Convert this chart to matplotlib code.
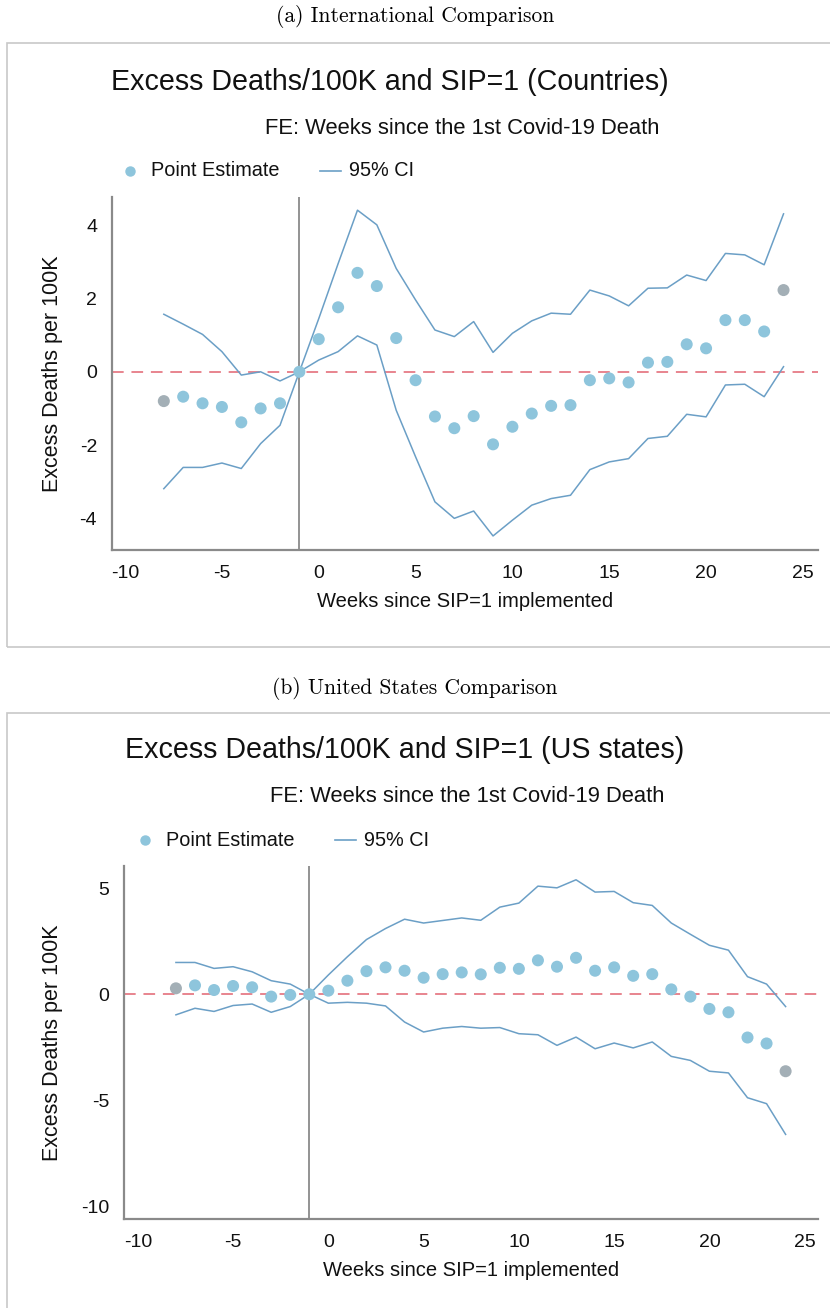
import matplotlib
matplotlib.use("Agg")
import matplotlib.pyplot as plt
from matplotlib.patches import Rectangle
from matplotlib.lines import Line2D

plt.rcParams['font.family'] = ['Liberation Sans', 'DejaVu Sans']
plt.rcParams['axes.unicode_minus'] = False

# ---------------- data ----------------
weeks = list(range(-8, 25))

# (a) Countries
intl_est = [-0.80, -0.68, -0.86, -0.96, -1.38, -1.00, -0.86, 0.00,
            0.89, 1.76, 2.70, 2.34, 0.92, -0.23, -1.22, -1.54, -1.21,
            -1.98, -1.50, -1.14, -0.93, -0.91, -0.23, -0.18, -0.29,
            0.25, 0.27, 0.75, 0.64, 1.41, 1.41, 1.10, 2.23]
intl_hi = [1.57, 1.30, 1.02, 0.55, -0.09, 0.00, -0.25, 0.00,
           1.45, 2.95, 4.41, 4.01, 2.82, 1.96, 1.14, 0.96, 1.37,
           0.53, 1.05, 1.39, 1.60, 1.57, 2.23, 2.07, 1.80,
           2.28, 2.29, 2.64, 2.49, 3.23, 3.19, 2.92, 4.31]
intl_lo = [-3.19, -2.61, -2.61, -2.49, -2.64, -1.96, -1.46, 0.00,
           0.32, 0.55, 0.98, 0.73, -1.05, -2.32, -3.55, -4.00, -3.80,
           -4.48, -4.05, -3.64, -3.46, -3.37, -2.67, -2.46, -2.37,
           -1.82, -1.76, -1.16, -1.23, -0.36, -0.34, -0.68, 0.14]

# (b) US states
us_est = [0.28, 0.42, 0.20, 0.39, 0.33, -0.11, -0.03, 0.00,
          0.17, 0.64, 1.09, 1.27, 1.11, 0.78, 0.95, 1.03, 0.94,
          1.25, 1.20, 1.60, 1.30, 1.72, 1.11, 1.27, 0.87,
          0.95, 0.23, -0.11, -0.69, -0.85, -2.04, -2.32, -3.63]
us_hi = [1.50, 1.50, 1.22, 1.30, 1.06, 0.64, 0.48, 0.00,
         0.91, 1.77, 2.58, 3.10, 3.54, 3.36, 3.48, 3.60, 3.49,
         4.11, 4.30, 5.10, 5.02, 5.40, 4.82, 4.85, 4.32,
         4.19, 3.36, 2.83, 2.31, 2.08, 0.83, 0.48, -0.58]
us_lo = [-0.97, -0.66, -0.81, -0.53, -0.46, -0.85, -0.58, 0.00,
         -0.42, -0.38, -0.42, -0.55, -1.31, -1.78, -1.60, -1.52, -1.60,
         -1.57, -1.86, -1.91, -2.41, -2.02, -2.57, -2.30, -2.53,
         -2.25, -2.93, -3.12, -3.63, -3.71, -4.88, -5.16, -6.61]

captions = ["(a) International Comparison", "(b) United States Comparison"]
titles = ["Excess Deaths/100K and SIP=1 (Countries)",
          "Excess Deaths/100K and SIP=1 (US states)"]
subtitle = "FE: Weeks since the 1st Covid-19 Death"
xticks = [-10, -5, 0, 5, 10, 15, 20, 25]
yticks_a = [-4, -2, 0, 2, 4]
yticks_b = [-10, -5, 0, 5]
ref_week = -1

# ---------------- figure ----------------
W, H = 830, 1308
fig = plt.figure(figsize=(W / 100, H / 100), dpi=100)


def fx(x):
    return x / W


def fy(y):
    return 1 - y / H


PT_COL = '#8ec5dc'
END_COL = '#a3afb6'
CI_COL = '#6b9fc6'
ZERO_COL = '#e8848e'
SPINE_COL = '#8a8a8a'
TXT = '#111111'


def panel(box_top, box_bot, cap_y, ax_l, ax_t, ax_b, title_x, title_y,
          sub_x, sub_y, leg_x, leg_y, est, hi, lo, yticks, ylim, xlim,
          caption, title, ylab_x, xlab_top):
    # caption
    fig.text(0.5, fy(cap_y), caption, ha='center', va='center',
             fontfamily='cmr10', fontsize=15.5)
    # box
    fig.patches.append(Rectangle((fx(7), fy(box_bot)), fx(840) - fx(7),
                                 fy(box_top) - fy(box_bot),
                                 transform=fig.transFigure, fill=False,
                                 edgecolor='#c8c8c8', lw=1.2))
    # titles
    fig.text(fx(title_x), fy(title_y), title, ha='left', va='center',
             fontsize=20.6, color=TXT)
    fig.text(fx(sub_x), fy(sub_y), subtitle, ha='left', va='center',
             fontsize=15.8, color=TXT)
    # legend
    fig.add_artist(Line2D([fx(leg_x)], [fy(leg_y)], marker='o', ms=6.5,
                          color=PT_COL, transform=fig.transFigure, lw=0))
    fig.text(fx(leg_x + 21), fy(leg_y), "Point Estimate", ha='left',
             va='center', fontsize=14.3, color=TXT)
    fig.add_artist(Line2D([fx(leg_x + 190), fx(leg_x + 211)],
                          [fy(leg_y), fy(leg_y)], color=CI_COL, lw=1.2,
                          transform=fig.transFigure))
    fig.text(fx(leg_x + 219), fy(leg_y), "95% CI", ha='left', va='center',
             fontsize=14.3, color=TXT)

    ax_w = 818 - ax_l
    ax_h = ax_b - ax_t
    ax = fig.add_axes([fx(ax_l), fy(ax_b), fx(818) - fx(ax_l),
                       fy(ax_t) - fy(ax_b)])
    ax.set_xlim(*xlim)
    ax.set_ylim(*ylim)
    for s in ['top', 'right']:
        ax.spines[s].set_visible(False)
    for s in ['left', 'bottom']:
        ax.spines[s].set_color(SPINE_COL)
        ax.spines[s].set_linewidth(1.6)
    ax.set_xticks(xticks)
    ax.set_yticks(yticks)
    ax.tick_params(axis='both', length=0, labelsize=14, colors=TXT)
    ax.tick_params(axis='y', pad=11)
    ax.tick_params(axis='x', pad=11)
    ax.set_xlabel("Weeks since SIP=1 implemented", fontsize=14.5, color=TXT)
    ax.set_ylabel("Excess Deaths per 100K", fontsize=15.5, color=TXT)
    ax.yaxis.set_label_coords((ylab_x - ax_l) / ax_w, 0.5)
    ax.xaxis.set_label_coords(0.5, -(xlab_top - ax_b) / ax_h)

    ax.axhline(0, color=ZERO_COL, lw=1.4, dashes=(6, 4), zorder=1)
    ax.axvline(ref_week, color='#808080', lw=1.2, zorder=1)
    ax.plot(weeks, hi, color=CI_COL, lw=1.1, zorder=2)
    ax.plot(weeks, lo, color=CI_COL, lw=1.1, zorder=2)
    cols = [PT_COL] * len(weeks)
    cols[0] = END_COL
    cols[-1] = END_COL
    ax.scatter(weeks, est, s=75, c=cols, edgecolors='none', zorder=3)
    return ax


panel(box_top=43, box_bot=647, cap_y=16, ax_l=112.3, ax_t=197, ax_b=549.5,
      title_x=111, title_y=82, sub_x=265, sub_y=128, leg_x=130, leg_y=171,
      est=intl_est, hi=intl_hi, lo=intl_lo, yticks=yticks_a,
      ylim=(-4.85, 4.77), xlim=(-10.66, 25.78), caption=captions[0],
      title=titles[0], ylab_x=63, xlab_top=592)

panel(box_top=713, box_bot=1400, cap_y=688, ax_l=124.3, ax_t=866, ax_b=1219,
      title_x=125, title_y=750, sub_x=270, sub_y=797, leg_x=145, leg_y=840,
      est=us_est, hi=us_hi, lo=us_lo, yticks=yticks_b,
      ylim=(-10.6, 6.05), xlim=(-10.71, 25.7), caption=captions[1],
      title=titles[1], ylab_x=63, xlab_top=1261)

fig.savefig("out.png", dpi=100, facecolor='white')
